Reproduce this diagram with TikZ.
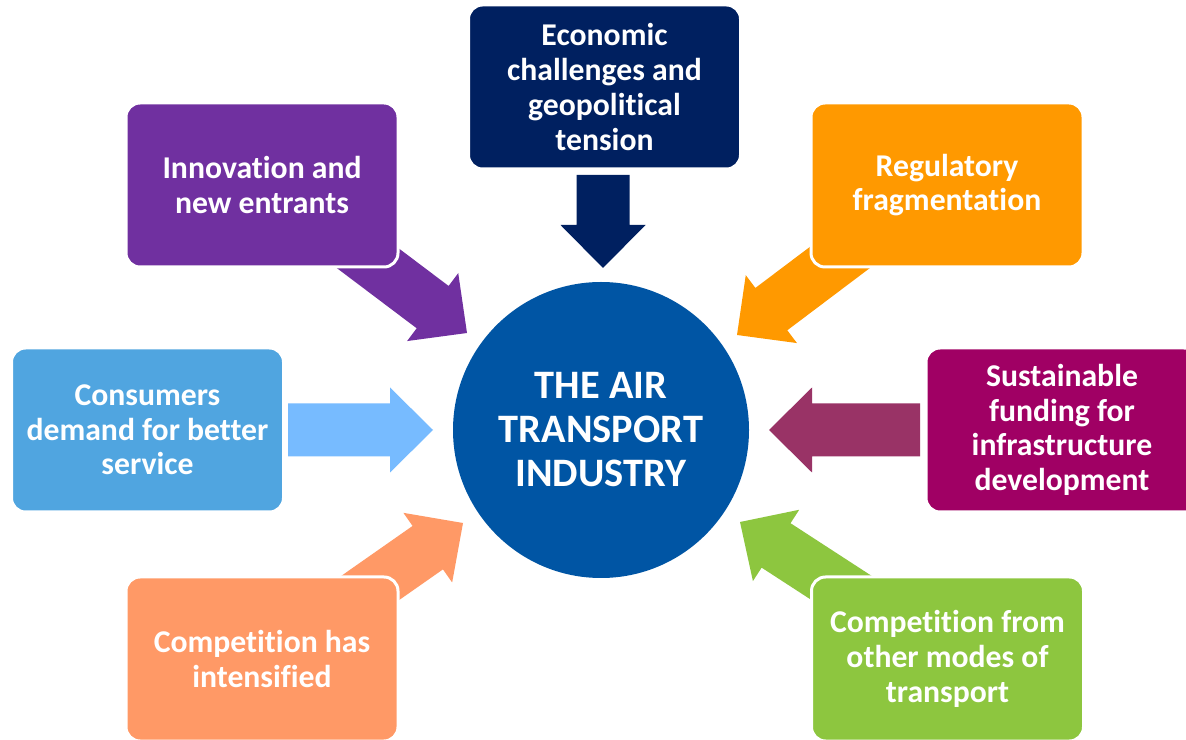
\documentclass[tikz,border=0pt]{standalone}
\usepackage{fontspec}
\setmainfont{Carlito}[RawFeature={-liga;-clig;-dlig;-calt}]
\definecolor{cNavy}{HTML}{002060}
\definecolor{cPurple}{HTML}{7030A0}
\definecolor{cOrange}{HTML}{FF9900}
\definecolor{cSky}{HTML}{50A5E0}
\definecolor{cSkyArrow}{HTML}{77BBFF}
\definecolor{cMagenta}{HTML}{A00064}
\definecolor{cMagArrow}{HTML}{993366}
\definecolor{cSalmon}{HTML}{FF9966}
\definecolor{cGreen}{HTML}{8DC63F}
\definecolor{cCircle}{HTML}{0055A4}
\newcommand\blockarrow[4]{%
  \fill[#4, shift={(#1)}, rotate=#2] (0,0) -- (-43,42.5) -- (-43,26.5) -- (-#3,26.5)
    -- (-#3,-26.5) -- (-43,-26.5) -- (-43,-42.5) -- cycle;}
\tikzset{
  box/.style={rounded corners=14pt, minimum width=272pt, minimum height=164pt,
    draw=white, line width=3pt, text=white, align=center, inner sep=0pt,
    font=\bfseries\fontsize{31.7}{34.7}\selectfont},
  hub/.style={circle, fill=cCircle, minimum size=296pt, inner sep=0pt, text=white,
    align=center, font=\bfseries\fontsize{40.4}{44}\selectfont}
}
\begin{document}
\begin{tikzpicture}[x=1pt,y=1pt]
\useasboundingbox (0,0) rectangle (1186,739);
\clip (0,0) rectangle (1186,739);
\fill[white] (0,0) rectangle (1186,739);
% arrow tips
\coordinate (tTop) at (603,471);
\coordinate (tInn) at (467,406);
\coordinate (tReg) at (737,404);
\coordinate (tCon) at (433,309);
\coordinate (tSus) at (769,309);
\coordinate (tCmp) at (463,216);
\coordinate (tOth) at (740,217);
% block arrows
\blockarrow{tTop}{-90}{93}{cNavy}
\blockarrow{tInn}{-37}{170}{cPurple}
\blockarrow{tReg}{217}{170}{cOrange}
\blockarrow{tCon}{0}{145}{cSkyArrow}
\blockarrow{tSus}{180}{151}{cMagArrow}
\blockarrow{tCmp}{35}{170}{cSalmon}
\blockarrow{tOth}{147}{170}{cGreen}
% boxes
\node[box, fill=cNavy] (eco) at (604.5,652) {Economic\\challenges and\\geopolitical\\tension};
\node[box, fill=cPurple] (inn) at (262,554) {Innovation and\\new entrants};
\node[box, fill=cOrange] (reg) at (947,554) {Regulatory\\fragmentation};
\node[box, fill=cSky] (con) at (147.5,309) {Consumers\\demand for better\\service};
\node[box, fill=cMagenta] (sus) at (1062,309) {Sustainable\\funding for\\infrastructure\\development};
\node[box, fill=cSalmon] (cmp) at (262,80) {Competition has\\intensified};
\node[box, fill=cGreen] (oth) at (947.5,80) {Competition from\\other modes of\\transport};
% hub
\node[hub] (hub) at (601,309) {THE AIR\\TRANSPORT\\INDUSTRY};
\end{tikzpicture}
\end{document}
